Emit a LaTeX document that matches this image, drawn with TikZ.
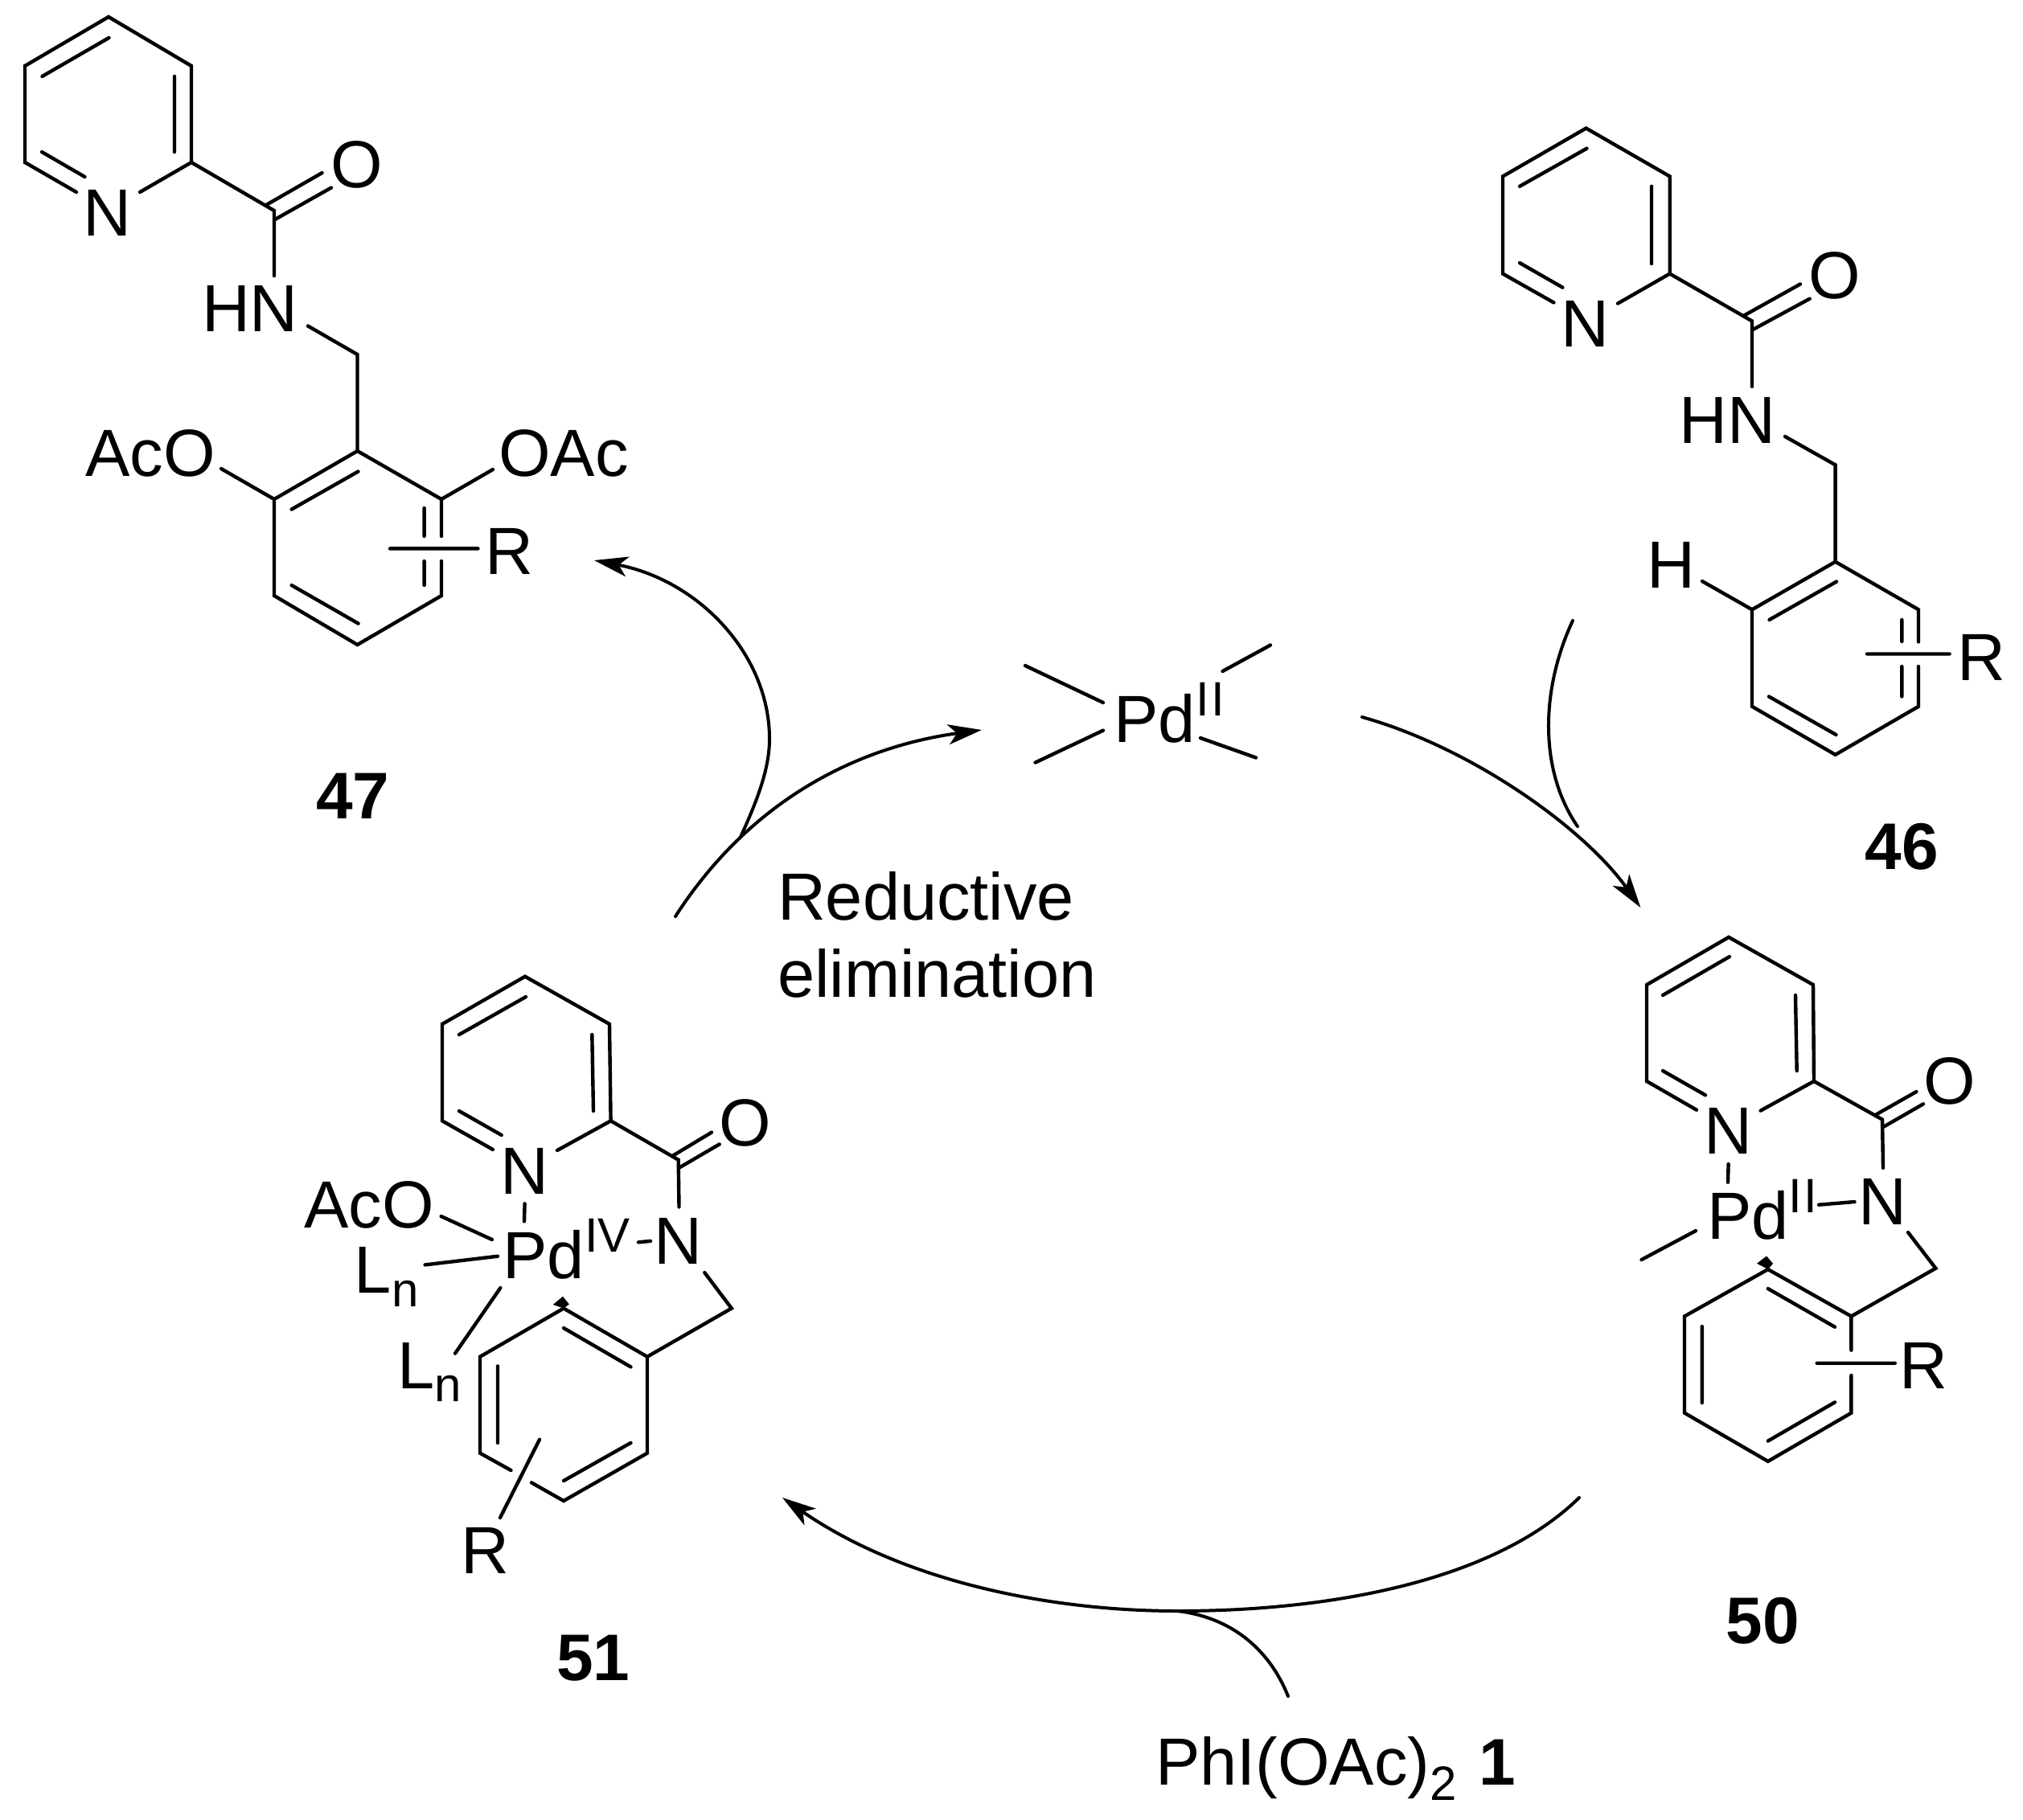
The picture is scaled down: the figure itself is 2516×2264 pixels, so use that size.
\documentclass[tikz,border=0pt]{standalone}
\usepackage{fontspec}
\setmainfont{Liberation Sans}
\usetikzlibrary{arrows.meta}
\tikzset{
  atom/.style={font=\fontsize{83}{97}\selectfont,inner sep=0pt,outer sep=0pt,anchor=base},
  atomw/.style={atom,anchor=base west},
  small/.style={font=\fontsize{60}{70}\selectfont,inner sep=0pt,outer sep=0pt,anchor=base west},
  numlabel/.style={atom,font=\fontsize{82}{97}\selectfont\bfseries},
  bond/.style={line width=4.4pt,line cap=round,line join=miter,miter limit=3},
  curve/.style={line width=4pt,line cap=round},
  curvearrow/.style={curve,-{Stealth[length=42pt,width=25pt,inset=11pt]}}
}
\begin{document}
\begin{tikzpicture}[x=1pt,y=-1pt]
\useasboundingbox (0,0) rectangle (2516,2264);
\fill[white] (0,0) rectangle (2516,2264);

% ---------- 47 ----------
\node[atom] (N47) at (133.5,293.5) {N};
\node[atom] (O47) at (443.5,233) {O};
\node[atom] (HN47) at (311,412.4) {HN};
\node[atom] (AcO47) at (187,592) {AcO};
\node[atom] (OAc47) at (701,592) {OAc};
\node[atom] (R47) at (633,714) {R};
\node[numlabel] (lab47) at (439,1018) {47};
\coordinate (a1) at (135,21); \coordinate (a2) at (238,82); \coordinate (a3) at (238,202);
\coordinate (a4) at (174,239); \coordinate (a5) at (95,239); \coordinate (a6) at (31,202); \coordinate (a7) at (31,82);
\coordinate (aC) at (341,262); \coordinate (aNe) at (341,343); \coordinate (aNb) at (383,405.5);
\coordinate (aCH) at (444.5,441);
\coordinate (b1) at (444.5,561); \coordinate (b2) at (549,621); \coordinate (b2a) at (549,667); \coordinate (b3a) at (549,698);
\coordinate (b3) at (549,741); \coordinate (b4) at (444.5,802); \coordinate (b5) at (341,741); \coordinate (b6) at (341,621);
\coordinate (aOl) at (275,583); \coordinate (aOr) at (613,584);
\coordinate (aRl) at (485,682.4); \coordinate (aRr) at (594.5,682.4);
\draw[bond] (a4) -- (a3) -- (a2) -- (a1) -- (a7) -- (a6) -- (a5);
\draw[bond] (135.5,47) -- (52.5,95) (217,95) -- (217,189) (52,189) -- (105.5,220);
\draw[bond] (a3) -- (aC) -- (aNe);
\draw[bond] (331,255) -- (400.6,215) (342,273) -- (412,233.5);
\draw[bond] (aNb) -- (aCH) -- (b1);
\draw[bond] (b2a) -- (b2) -- (b1) -- (b6) -- (b5) -- (b4) -- (b3) -- (b3a);
\draw[bond] (445.5,586.5) -- (362.6,633.6) (527.6,632) -- (527.6,667) (527.6,698) -- (527.6,728) (362.6,728) -- (445.6,775.6);
\draw[bond] (aOl) -- (b6) (b2) -- (aOr) (aRl) -- (aRr);

% ---------- 46 ----------
\node[atom] (N46) at (1971,431.6) {N};
\node[atom] (O46) at (2281.7,371) {O};
\node[atom] (HN46) at (2148,551.5) {HN};
\node[atom] (H46) at (2078,731) {H};
\node[atom] (R46) at (2464,846) {R};
\node[numlabel] (lab46) at (2365,1081) {46};
\coordinate (c1) at (1972.6,159.5); \coordinate (c2) at (2076.7,219.4); \coordinate (c3) at (2076.7,340.5);
\coordinate (c4) at (2012,377.5); \coordinate (c5) at (1932.4,376.4); \coordinate (c6) at (1869,340.5); \coordinate (c7) at (1869,219.4);
\coordinate (cC) at (2179,399.4); \coordinate (cNe) at (2179,480.8); \coordinate (cNb) at (2220,543);
\coordinate (cCH) at (2282.6,578.3);
\coordinate (d1) at (2282.6,698.8); \coordinate (d2) at (2386,758.3); \coordinate (d2a) at (2386,798.4); \coordinate (d3a) at (2386,829);
\coordinate (d3) at (2386,878.8); \coordinate (d4) at (2282.6,938.8); \coordinate (d5) at (2179,878.8); \coordinate (d6) at (2179,758.3);
\coordinate (cH) at (2117,723); \coordinate (cRl) at (2322,813.5); \coordinate (cRr) at (2424.6,813.5);
\draw[bond] (c4) -- (c3) -- (c2) -- (c1) -- (c7) -- (c6) -- (c5);
\draw[bond] (1973.5,184.6) -- (1890,231.8) (2054,231.8) -- (2054,328) (1890,327) -- (1943.4,357.6);
\draw[bond] (c3) -- (cC) -- (cNe);
\draw[bond] (2169,392.5) -- (2239,353.4) (2180,410) -- (2250.7,371.6);
\draw[bond] (cNb) -- (cCH) -- (d1);
\draw[bond] (d2a) -- (d2) -- (d1) -- (d6) -- (d5) -- (d4) -- (d3) -- (d3a);
\draw[bond] (2284,723.5) -- (2200.5,771) (2365.3,771) -- (2365.3,798) (2365.3,829) -- (2365.3,866.5) (2200,866.5) -- (2283.5,914);
\draw[bond] (cH) -- (d6) (cRl) -- (cRr);

% ---------- 50 ----------
\node[atom] (N50) at (2149,1435.3) {N};
\node[atom] (O50) at (2424.4,1373) {O};
\node[atom] (Nb50) at (2341,1523) {N};
\node[atomw] (Pd50) at (2123,1541) {Pd};
\node[small] (II50) at (2224,1508) {I\kern3pt I};
\node[atom] (R50) at (2392,1727) {R};
\node[numlabel] (lab50) at (2192,2044) {50};
\coordinate (e1) at (2150,1165.8); \coordinate (e2) at (2255,1225); \coordinate (e3) at (2256,1345);
\coordinate (e4) at (2189.6,1381.6); \coordinate (e5) at (2110,1380.7); \coordinate (e6) at (2048,1345); \coordinate (e7) at (2048,1225);
\coordinate (eC) at (2341,1392.6); \coordinate (eNe) at (2342,1452.8); \coordinate (eNb) at (2373,1533);
\coordinate (eCH) at (2407.4,1577.7);
\coordinate (f1) at (2198.8,1579); \coordinate (f2) at (2302.4,1637.4); \coordinate (f2a) at (2302.4,1679.6); \coordinate (f3a) at (2302.4,1710.8);
\coordinate (f3) at (2302.4,1757.6); \coordinate (f4) at (2198.8,1817.8); \coordinate (f5) at (2095,1757.6); \coordinate (f6) at (2095,1637.4);
\draw[bond] (e4) -- (e3) -- (e2) -- (e1) -- (e7) -- (e6) -- (e5);
\draw[bond] (2151,1190) -- (2068,1238) (2233,1238) -- (2234.7,1332) (2068,1332) -- (2121,1362.3);
\draw[bond] (e3) -- (eC) -- (eNe);
\draw[bond] (2334,1386) -- (2383.4,1358) (2342.4,1401.8) -- (2392,1373.3);
\draw[bond] (eNb) -- (eCH) -- (f2);
\draw[bond] (f2a) -- (f2) -- (f1) -- (f6) -- (f5) -- (f4) -- (f3) -- (f3a);
\draw[bond] (2198.8,1603) -- (2282,1650.7) (2116.8,1650) -- (2116.8,1745) (2198.8,1792.5) -- (2282,1744.3);
\draw[bond] (2149.6,1448) -- (2149,1470.7) (2262,1498.7) -- (2306.5,1495) (2109,1531) -- (2041.5,1567) (2259.7,1695.7) -- (2356.8,1695.7);
\fill (2185,1571.7) -- (2197,1562.5) -- (2205,1571.7) -- (2199,1579) -- cycle;

% ---------- 51 ----------
\node[atom] (N51) at (652,1485) {N};
\node[atom] (O51) at (926.5,1425) {O};
\node[atom] (Nb51) at (843.7,1572) {N};
\node[atomw] (Pd51) at (625.4,1590.7) {Pd};
\node[small] (IV51) at (727,1557.5) {IV};
\node[atom] (AcO51) at (459,1527) {AcO};
\node[atomw] (L151) at (440,1608.6) {L};
\node[small] (n151) at (487,1625.4) {n};
\node[atomw] (L251) at (494,1727.5) {L};
\node[small] (n251) at (540.7,1743.8) {n};
\node[atom] (R51) at (603,1957) {R};
\node[numlabel] (lab51) at (738,2090) {51};
\coordinate (g1) at (653,1214.7); \coordinate (g2) at (758,1273.9); \coordinate (g3) at (759.6,1394.3);
\coordinate (g4) at (693,1431); \coordinate (g5) at (613,1430); \coordinate (g6) at (550,1394.3); \coordinate (g7) at (550,1273.9);
\coordinate (gC) at (843.7,1442.8); \coordinate (gNe) at (844.5,1501.4); \coordinate (gNb) at (876.3,1583);
\coordinate (gCH) at (909.8,1627.5);
\coordinate (h1) at (701,1627.5); \coordinate (h2) at (805,1687.7); \coordinate (h3) at (805,1807.6); \coordinate (h4) at (701,1867);
\coordinate (h4a) at (661,1844.3); \coordinate (h5a) at (635.5,1829); \coordinate (h5) at (597,1807.6); \coordinate (h6) at (597,1687.7);
\draw[bond] (g4) -- (g3) -- (g2) -- (g1) -- (g7) -- (g6) -- (g5);
\draw[bond] (654,1240) -- (571,1287) (736.3,1287) -- (738,1382) (571,1382) -- (623.7,1412);
\draw[bond] (g3) -- (gC) -- (gNe);
\draw[bond] (836.7,1437.7) -- (885,1408.6) (845.7,1452) -- (894.7,1423.4);
\draw[bond] (gNb) -- (gCH) -- (h2);
\draw[bond] (h4a) -- (h4) -- (h3) -- (h2) -- (h1) -- (h6) -- (h5) -- (h5a);
\draw[bond] (701,1652) -- (784.5,1700.4) (619,1699.4) -- (619,1794.8) (701,1842) -- (784.5,1794.8);
\draw[bond] (652.6,1497.3) -- (652,1519.3) (794,1545.3) -- (809,1543.8) (548.6,1513) -- (612,1542);
\draw[bond] (528.6,1573.4) -- (619,1562.7) (622.4,1602) -- (566,1683.6) (671,1790.7) -- (622,1888);
\fill (687.8,1622.9) -- (700,1612.7) -- (707.8,1622.4) -- (701,1627.5) -- cycle;

% ---------- central Pd ----------
\node[atomw] (Pd) at (1385,923) {Pd};
\node[small] (IIc) at (1487,890) {I\kern3pt I};
\draw[bond] (1275,828) -- (1372,874) (1287.5,948.6) -- (1372,908.6) (1520.5,835) -- (1580,802.5) (1493,918) -- (1562,942.5);

% ---------- labels ----------
\node[atomw] (redu) at (967,1144) {Reductive};
\node[atomw] (elim) at (967,1240) {elimination};
\node[atomw] (phi) at (1437,2220) {PhI(OAc)\raisebox{-19pt}{\fontsize{60}{70}\selectfont 2}};
\node[numlabel] (one) at (1862,2220) {1};

% ---------- arrows ----------
\coordinate (s1) at (840,1140); \coordinate (t1) at (1221,908);
\draw[curvearrow] (s1) .. controls (930,1000) and (1060,930) .. (t1);
\coordinate (s2) at (921,1041); \coordinate (m2) at (957,919); \coordinate (t2) at (739,697);
\draw[curvearrow] (s2) .. controls (947,985) and (957,950) .. (m2) .. controls (957,815) and (870,722) .. (t2);
\coordinate (s3) at (1694,892); \coordinate (t3) at (2040.4,1129);
\draw[curvearrow] (s3) .. controls (1830,930) and (1970,1030) .. (t3);
\coordinate (s4) at (1956,772); \coordinate (j4) at (1962,1028);
\draw[curve] (s4) .. controls (1915,860) and (1915,960) .. (j4);
\coordinate (s5) at (1964,1863); \coordinate (m5) at (1465,2004); \coordinate (t5) at (973,1863);
\draw[curvearrow] (s5) .. controls (1860,1965) and (1660,2004) .. (m5) .. controls (1300,2004) and (1120,1965) .. (t5);
\coordinate (s6) at (1602,2110);
\draw[curve] (m5) .. controls (1530,2012) and (1578,2050) .. (s6);
\end{tikzpicture}
\end{document}
